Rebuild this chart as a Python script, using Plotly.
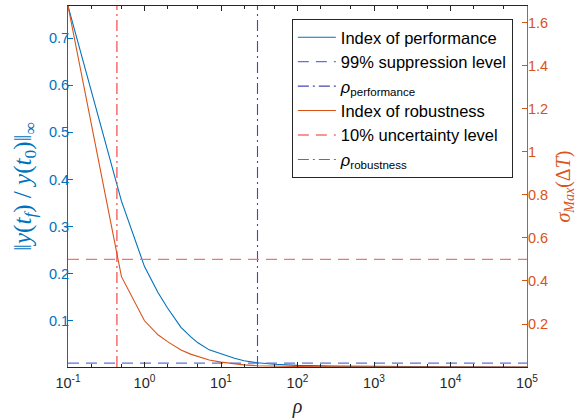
import plotly.graph_objects as go

rho = [0.1, 0.5, 1, 1.5, 2, 3, 4, 5, 7, 10, 15, 20, 30, 50, 100, 300, 1000, 10000, 100000]
perf = [0.7686, 0.354, 0.215, 0.160, 0.127, 0.086, 0.066, 0.053, 0.038, 0.029, 0.020, 0.015,
        0.0105, 0.0074, 0.0050, 0.0035, 0.0025, 0.0019, 0.0016]
robust = [1.678, 0.42, 0.215, 0.150, 0.118, 0.079, 0.060, 0.049, 0.033, 0.023, 0.014, 0.010,
          0.006, 0.004, 0.0025, 0.0014, 0.0008, 0.0004, 0.0003]

suppression_level = 0.01
uncertainty_level = 0.5
rho_performance = 30
rho_robustness = 0.436

x_range = [0.1, 1e5]
y_left = [0.0016, 0.7686]
y_right = [0.0002, 1.678]

left_ticks = [0.1, 0.2, 0.3, 0.4, 0.5, 0.6, 0.7]
right_ticks = [0.2, 0.4, 0.6, 0.8, 1, 1.2, 1.4, 1.6]
right_ticktext = ["0.2", "0.4", "0.6", "0.8", "1", "1.2", "1.4", "1.6"]
x_ticks = [0.1, 1, 10, 100, 1000, 10000, 100000]
x_ticktext = ["10<sup>-1</sup>", "10<sup>0</sup>", "10<sup>1</sup>", "10<sup>2</sup>",
              "10<sup>3</sup>", "10<sup>4</sup>", "10<sup>5</sup>"]

BLUE = "#0072BD"
ORANGE = "#D95319"
FONT = "Liberation Sans"
DASH = "11px,7px"
DASHDOT = "11px,4px,2px,4px"

fig = go.Figure()
fig.add_trace(go.Scatter(x=rho, y=perf, mode="lines", name="Index of performance",
                         line=dict(color=BLUE, width=1.1), yaxis="y"))
fig.add_trace(go.Scatter(x=x_range, y=[suppression_level] * 2, mode="lines",
                         name="99% suppression level",
                         line=dict(color="rgb(95,115,215)", width=1.2, dash=DASH), yaxis="y"))
fig.add_trace(go.Scatter(x=[rho_performance] * 2, y=y_left, mode="lines",
                         name="<i>ρ</i><sub>performance</sub>",
                         line=dict(color="rgb(70,70,185)", width=1.1, dash=DASHDOT), yaxis="y"))
fig.add_trace(go.Scatter(x=rho, y=robust, mode="lines", name="Index of robustness",
                         line=dict(color=ORANGE, width=1.1), yaxis="y2"))
fig.add_trace(go.Scatter(x=x_range, y=[uncertainty_level] * 2, mode="lines",
                         name="10% uncertainty level",
                         line=dict(color="rgb(245,115,115)", width=1.3, dash=DASH), yaxis="y2"))
fig.add_trace(go.Scatter(x=[rho_robustness] * 2, y=y_right, mode="lines",
                         name="<i>ρ</i><sub>robustness</sub>",
                         line=dict(color="rgb(245,55,55)", width=1.1, dash=DASHDOT), yaxis="y2"))

fig.update_layout(
    width=586, height=419,
    margin=dict(l=68, r=59, t=6, b=52),
    plot_bgcolor="white", paper_bgcolor="white",
    font=dict(family=FONT, size=13, color="#262626"),
    showlegend=True,
    legend=dict(x=0.4877, y=0.964, xanchor="left", yanchor="top",
                bgcolor="white", bordercolor="#262626", borderwidth=1,
                font=dict(family=FONT, size=16.5, color="#000000"),
                tracegroupgap=0, itemwidth=38),
    xaxis=dict(type="log", range=[-1, 5], tickvals=x_ticks, ticktext=x_ticktext,
               ticks="inside", ticklen=5, tickcolor="#262626",
               minor=dict(ticks="inside", ticklen=3, tickcolor="#262626"),
               showline=True, linecolor="#262626", linewidth=1, mirror="ticks",
               showgrid=False, zeroline=False, ticklabelstandoff=3,
               tickfont=dict(size=14.5, color="#262626"),
               title=dict(text="<i>ρ</i>", font=dict(family="Liberation Serif", size=20, color="#262626"),
                          standoff=8)),
    yaxis=dict(range=y_left, tickvals=left_ticks, ticks="inside", ticklen=5,
               tickcolor=BLUE, showline=True, linecolor=BLUE, linewidth=1,
               showgrid=False, zeroline=False, ticklabelstandoff=-5,
               tickfont=dict(size=14.5, color=BLUE),
               title=dict(text="‖<i>y</i>(<i>t<sub>f</sub></i>) / <i>y</i>(<i>t</i><sub>0</sub>)‖<sub>∞</sub>",
                          font=dict(family="Liberation Serif", size=25, color=BLUE), standoff=10)),
    yaxis2=dict(range=y_right, tickvals=right_ticks, ticktext=right_ticktext,
                overlaying="y", side="right", ticks="inside", ticklen=5,
                tickcolor=ORANGE, showline=True, linecolor=ORANGE, linewidth=1,
                showgrid=False, zeroline=False, ticklabelstandoff=-3,
                tickfont=dict(size=14.5, color=ORANGE),
                title=dict(text="<i>σ<sub>Max</sub></i>(Δ<i>T</i>)",
                           font=dict(family="Liberation Serif", size=20, color=ORANGE), standoff=8)),
)

fig.write_html("out.html")
